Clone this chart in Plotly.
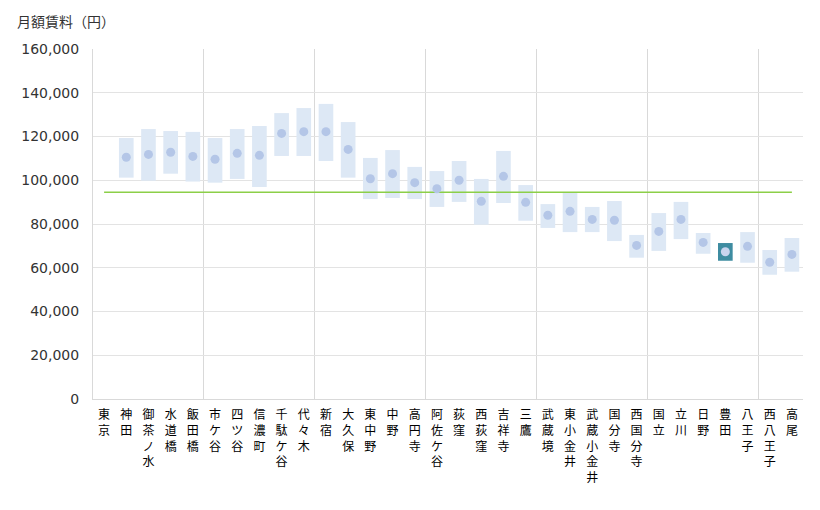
import plotly.graph_objects as go

stations = ["東京", "神田", "御茶ノ水", "水道橋", "飯田橋", "市ケ谷", "四ツ谷", "信濃町", "千駄ケ谷", "代々木",
            "新宿", "大久保", "東中野", "中野", "高円寺", "阿佐ケ谷", "荻窪", "西荻窪", "吉祥寺", "三鷹",
            "武蔵境", "東小金井", "武蔵小金井", "国分寺", "西国分寺", "国立", "立川", "日野", "豊田", "八王子",
            "西八王子", "高尾"]
rent_max = [None, 119300, 123400, 122500, 122100, 119300, 123400, 124800, 130700, 133000,
            134900, 126600, 110200, 113800, 106100, 104200, 108800, 100600, 113400, 97800,
            89100, 94600, 87800, 90500, 75000, 85000, 90100, 75900, 71300, 76300,
            68100, 73600]
rent_min = [None, 101200, 99800, 103000, 99400, 98900, 100600, 96900, 111100, 111100,
            108800, 101200, 91400, 91900, 91400, 87800, 90100, 79700, 89600, 81500,
            78200, 76300, 76300, 72200, 64600, 67700, 73100, 66400, 63200, 62300,
            56800, 58200]
rent_avg = [None, 110500, 111800, 112800, 110900, 109600, 112300, 111400, 121400, 122200,
            122200, 114100, 100700, 103000, 98900, 96100, 100000, 90400, 101800, 89900,
            84000, 85800, 82100, 81700, 70200, 76600, 82100, 71600, 67300, 69800,
            62500, 66100]
line_avg = 94500
highlight = "豊田"
y_ticks = [0, 20000, 40000, 60000, 80000, 100000, 120000, 140000, 160000]

idx = list(range(len(stations)))
heights = [None if a is None else a - b for a, b in zip(rent_max, rent_min)]
bar_colors = ["#3e8ca1" if s == highlight else "#dde8f5" for s in stations]
dot_colors = ["#c8d4ee" if s == highlight else "#b4c6e7" for s in stations]

fig = go.Figure()
fig.add_trace(go.Bar(x=idx, y=heights, base=rent_min, width=0.66,
                     marker=dict(color=bar_colors, line=dict(width=0)),
                     hoverinfo="skip"))
fig.add_trace(go.Scatter(x=idx, y=[line_avg] * len(idx), mode="lines",
                         line=dict(color="#8ccf48", width=1.5), hoverinfo="skip"))
fig.add_trace(go.Scatter(x=idx, y=rent_avg, mode="markers",
                         marker=dict(color=dot_colors, size=9, line=dict(width=0))))

ticktext = ["<br>".join(list(s)) for s in stations]

fig.update_layout(
    width=820, height=510,
    margin=dict(l=93, r=17, t=49, b=111),
    plot_bgcolor="white", paper_bgcolor="white",
    showlegend=False,
    font=dict(family="Noto Sans CJK JP, DejaVu Sans", color="#333333"),
    xaxis=dict(
        range=[-0.5, len(stations) - 0.5],
        tickmode="array", tickvals=idx, ticktext=ticktext,
        tickangle=0,
        tickfont=dict(size=12, color="#000000", family="Noto Sans CJK JP"),
        showgrid=False, zeroline=False,
        showline=True, linecolor="#d9d9d9", linewidth=1,
        ticks="outside", ticklen=5, tickcolor="rgba(0,0,0,0)",
        minor=dict(tick0=-0.5, dtick=5, showgrid=True, gridcolor="#d9d9d9", gridwidth=1, ticks=""),
    ),
    yaxis=dict(
        range=[0, 160000],
        tickmode="array", tickvals=y_ticks,
        ticktext=[f"{v:,}" for v in y_ticks],
        tickfont=dict(size=14, color="#333333", family="DejaVu Sans"),
        showgrid=True, gridcolor="#e3e3e3", gridwidth=1,
        zeroline=False,
        showline=True, linecolor="#d9d9d9", linewidth=1,
        ticks="outside", ticklen=10, tickcolor="rgba(0,0,0,0)",
    ),
    annotations=[dict(text="月額賃料（円）", xref="paper", yref="paper", x=-0.11, y=1.081,
                      xanchor="left", yanchor="middle", showarrow=False,
                      font=dict(size=14, color="#333333", family="Noto Sans CJK JP"))],
)

fig.write_html("out.html", config={"displayModeBar": False},
               post_script="document.body.style.margin='0';")
